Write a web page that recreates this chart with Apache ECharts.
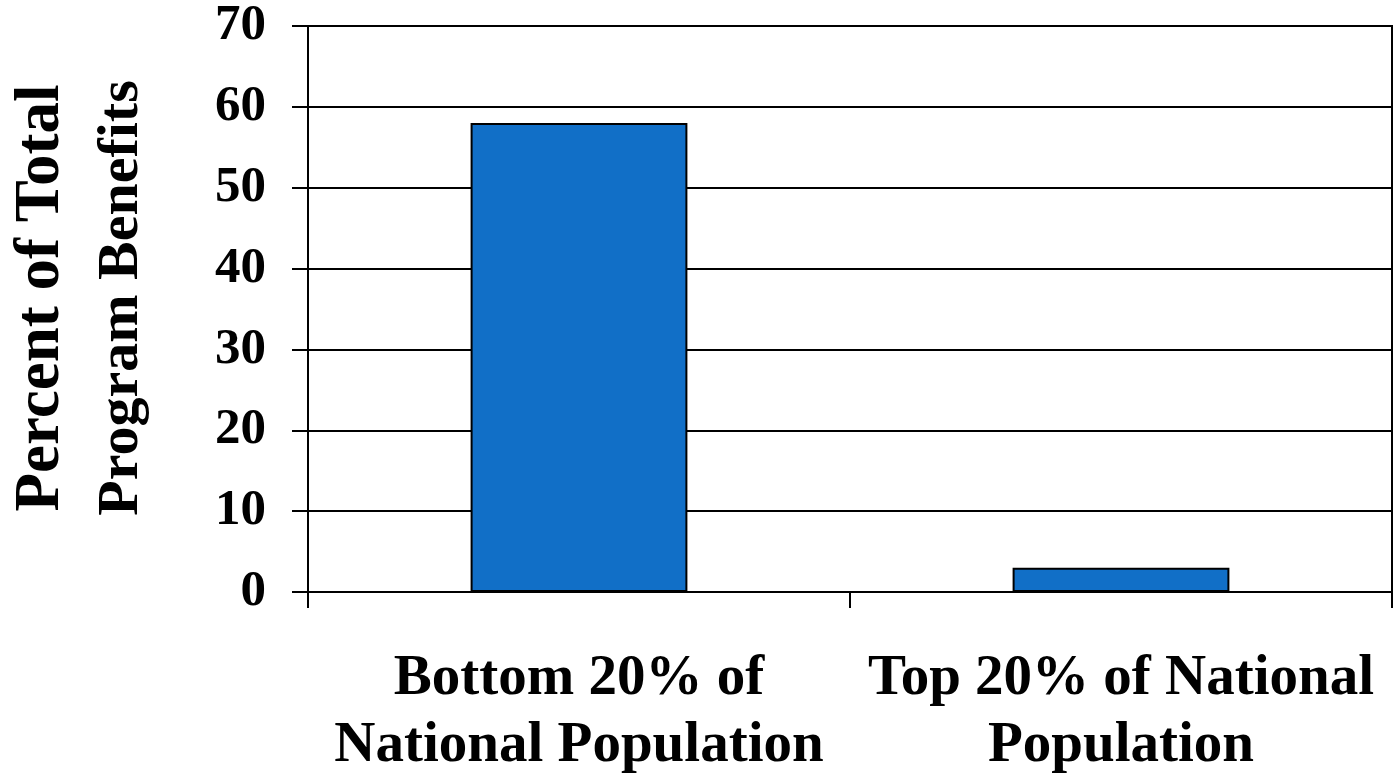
<!DOCTYPE html>
<html>
<head>
<meta charset="utf-8">
<script src="https://cdn.jsdelivr.net/npm/echarts@6/dist/echarts.min.js"></script>
<style>
  html, body { margin: 0; padding: 0; background: #ffffff; }
  #chart { width: 1393px; height: 775px; }
</style>
</head>
<body>
<div id="chart"></div>
<script>
// Share of total program benefits by population group
const categories = ['Bottom 20% of\nNational Population', 'Top 20% of National\nPopulation'];
const benefitShare = [58, 3];
const yTicks = { min: 0, max: 70, interval: 10 };

const FONT = '"Liberation Serif", "Times New Roman", serif';

const chart = echarts.init(document.getElementById('chart'), null, { renderer: 'canvas' });

chart.setOption({
  backgroundColor: '#ffffff',
  animation: false,
  grid: {
    left: 308,
    right: 1,
    top: 26,
    bottom: 183,
    containLabel: false,
    outerBoundsMode: 'none',
    show: true,
    borderColor: '#000000',
    borderWidth: 2,
    backgroundColor: 'transparent'
  },
  xAxis: {
    type: 'category',
    data: categories,
    axisLine: { show: true, lineStyle: { color: '#000000', width: 2 } },
    axisTick: { show: true, length: 16, inside: false, lineStyle: { color: '#000000', width: 2 } },
    axisLabel: {
      color: '#000000',
      fontFamily: FONT,
      fontWeight: 'bold',
      fontSize: 57,
      lineHeight: 67,
      margin: 54,
      interval: 0
    }
  },
  yAxis: {
    type: 'value',
    min: yTicks.min,
    max: yTicks.max,
    interval: yTicks.interval,
    name: '{a|Percent of Total}\n{b|Program Benefits}',
    nameLocation: 'middle',
    nameRotate: 90,
    nameGap: 146,
    nameTextStyle: {
      color: '#000000',
      fontFamily: FONT,
      fontWeight: 'bold',
      padding: [0, 0, 0, 22],
      rich: {
        a: { fontSize: 63, lineHeight: 80, fontFamily: FONT, fontWeight: 'bold', color: '#000000' },
        b: { fontSize: 58, lineHeight: 80, fontFamily: FONT, fontWeight: 'bold', color: '#000000' }
      }
    },
    axisLine: { show: true, lineStyle: { color: '#000000', width: 2 } },
    axisTick: { show: true, length: 16, inside: false, lineStyle: { color: '#000000', width: 2 } },
    axisLabel: {
      color: '#000000',
      fontFamily: FONT,
      fontWeight: 'bold',
      fontSize: 51,
      margin: 42
    },
    splitLine: { show: true, lineStyle: { color: '#000000', width: 2 } }
  },
  series: [{
    type: 'bar',
    data: benefitShare,
    barWidth: '40%',
    itemStyle: {
      color: '#116fc7',
      borderColor: '#000000',
      borderWidth: 2
    }
  }]
});
</script>
</body>
</html>
